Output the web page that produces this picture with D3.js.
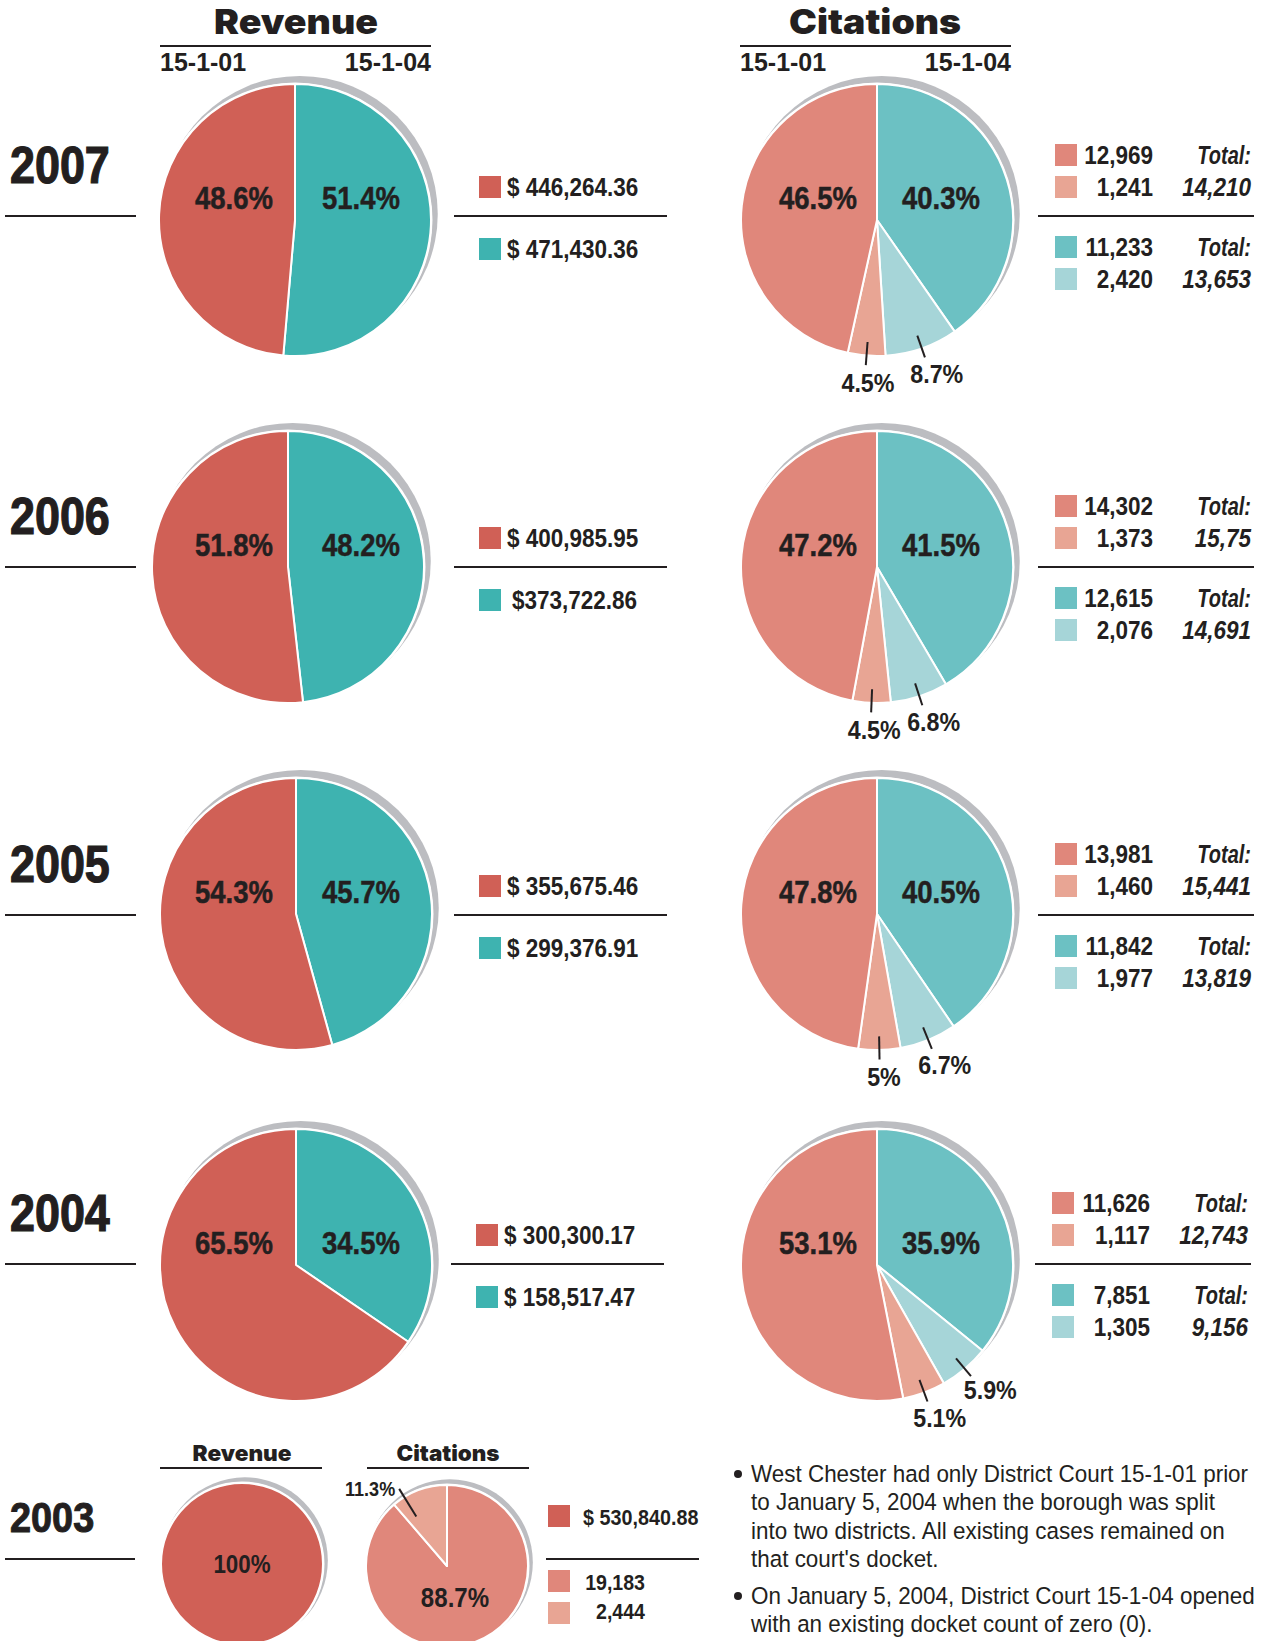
<!DOCTYPE html>
<html>
<head>
<meta charset="utf-8">
<script src="https://cdn.jsdelivr.net/npm/d3@7"></script>
<style>
  body { margin: 0; background: #fff; }
  svg { display: block; }
  .cond { font-family: 'Liberation Sans', Arial, sans-serif; font-weight: bold; fill: #231f20; }
  .heavy { font-family: Inter, 'Open Sans', sans-serif; font-weight: 900; fill: #231f20; }
  .note { font-family: 'Liberation Sans', Arial, sans-serif; font-weight: normal; fill: #231f20; }
</style>
</head>
<body>
<div id="chart"></div>
<script>
// ---- data ----
var years = ["2007", "2006", "2005", "2004"];

// revenue per court
var revenue01 = [446264.36, 400985.95, 355675.46, 300300.17];
var revenue04 = [471430.36, 373722.86, 299376.91, 158517.47];
var revenueText01 = ["$ 446,264.36", "$ 400,985.95", "$ 355,675.46", "$ 300,300.17"];
var revenueText04 = ["$ 471,430.36", "$373,722.86", "$ 299,376.91", "$ 158,517.47"];
var revenuePct01 = ["48.6%", "51.8%", "54.3%", "65.5%"];
var revenuePct04 = ["51.4%", "48.2%", "45.7%", "34.5%"];

// citations per court (two parts each)
var citations01a = [12969, 14302, 13981, 11626];
var citations01b = [1241, 1373, 1460, 1117];
var citations04a = [11233, 12615, 11842, 7851];
var citations04b = [2420, 2076, 1977, 1305];
var total01 = ["14,210", "15,75", "15,441", "12,743"];
var total04 = ["13,653", "14,691", "13,819", "9,156"];
var citPct01a = ["46.5%", "47.2%", "47.8%", "53.1%"];
var citPct01b = ["4.5%", "4.5%", "5%", "5.1%"];
var citPct04a = ["40.3%", "41.5%", "40.5%", "35.9%"];
var citPct04b = ["8.7%", "6.8%", "6.7%", "5.9%"];

// 2003, single court
var revenue2003 = [530840.88];
var revenueText2003 = ["$ 530,840.88"];
var revenuePct2003 = ["100%"];
var citations2003 = [19183, 2444];
var citPct2003 = ["88.7%", "11.3%"];

var courts = ["15-1-01", "15-1-04"];
var notes = [
  ["West Chester had only District Court 15-1-01 prior",
   "to January 5, 2004 when the borough was split",
   "into two districts. All existing cases remained on",
   "that court's docket."],
  ["On January 5, 2004, District Court 15-1-04 opened",
   "with an existing docket count of zero (0)."]
];

// ---- look ----
var col = {
  rev01: "#d06056", rev04: "#3eb3b0",
  cit01a: "#e0877b", cit01b: "#e8a594", cit04a: "#6cc1c3", cit04b: "#a6d5d8",
  shadow: "#bcbdc1", ink: "#231f20"
};

var width = 1262, height = 1641;
var R = 136;
// row layout: pie centres and the legend mid line
var rows = [
  {revX: 295, citX: 877, cy: 220, mid: 216, dx: 0},
  {revX: 288, citX: 877, cy: 567, mid: 567, dx: 0},
  {revX: 296, citX: 877, cy: 914, mid: 915, dx: 0},
  {revX: 296, citX: 877, cy: 1265, mid: 1264, dx: -3}
];

var svg = d3.select("#chart").append("svg")
  .attr("width", width)
  .attr("height", height);

var pie = d3.pie().sort(null).startAngle(0).endAngle(2 * Math.PI);

function hline(x1, x2, y, w) {
  svg.append("line")
    .attr("x1", x1).attr("x2", x2)
    .attr("y1", y).attr("y2", y)
    .attr("stroke", col.ink)
    .attr("stroke-width", w || 2);
}

// text squeezed horizontally by k to get the condensed look
function text(x, y, s, cls, size, anchor, k, parent) {
  return (parent || svg).append("text")
    .attr("class", cls)
    .attr("transform", "translate(" + x + "," + y + ") scale(" + (k || 1) + ",1)")
    .attr("font-size", size)
    .attr("text-anchor", anchor || "start")
    .text(s);
}

function drawPie(cx, cy, r, values, colors) {
  var g = svg.append("g").attr("transform", "translate(" + cx + "," + cy + ")");
  // grey rim behind, offset up and right
  g.append("circle")
    .attr("cx", r * 0.035).attr("cy", -r * 0.045)
    .attr("r", r + 2)
    .attr("fill", col.shadow);
  g.append("circle")
    .attr("r", r + 1.5)
    .attr("fill", "#fff");
  var arc = d3.arc().innerRadius(0).outerRadius(r);
  var arcs = pie(values);
  g.selectAll("path")
    .data(arcs)
    .enter().append("path")
    .attr("d", arc)
    .attr("fill", function (d, i) { return colors[i]; })
    .attr("stroke", "#fff")
    .attr("stroke-width", 2)
    .attr("stroke-linejoin", "round");
  return {g: g, arcs: arcs};
}

function pointAt(a, rr) {
  return [Math.sin(a) * rr, -Math.cos(a) * rr];
}

function leader(p, d, r, label, inner, outer, lab, size) {
  var a = (d.startAngle + d.endAngle) / 2;
  var p1 = pointAt(a, r * inner), p2 = pointAt(a, r * outer), p3 = pointAt(a, r * lab);
  p.g.append("line")
    .attr("x1", p1[0]).attr("y1", p1[1])
    .attr("x2", p2[0]).attr("y2", p2[1])
    .attr("stroke", col.ink)
    .attr("stroke-width", 2);
  text(p3[0] + 4 + Math.sin(a) * 6, p3[1] + size * 0.36, label, "cond", size, "middle", 0.93, p.g);
}

// ---- headers ----
text(296, 34, "Revenue", "heavy", 34, "middle").attr("textLength", 164).attr("lengthAdjust", "spacingAndGlyphs");
text(875, 34, "Citations", "heavy", 34, "middle").attr("textLength", 172).attr("lengthAdjust", "spacingAndGlyphs");
hline(160, 431, 46);
hline(740, 1011, 46);
text(160, 71, courts[0], "cond", 25, "start", 1.0);
text(431, 71, courts[1], "cond", 25, "end", 1.0);
text(740, 71, courts[0], "cond", 25, "start", 1.0);
text(1011, 71, courts[1], "cond", 25, "end", 1.0);

// ---- yearly rows ----
var fmt = d3.format(",");
years.forEach(function (yr, i) {
  var L = rows[i];

  text(10, L.mid - 33, yr, "cond", 51, "start", 0.88).attr("stroke", col.ink).attr("stroke-width", 1.2);
  hline(5, 136, L.mid);

  // revenue pie
  drawPie(L.revX, L.cy, R, [revenue04[i], revenue01[i]], [col.rev04, col.rev01]);
  text(234, L.cy - 11.5, revenuePct01[i], "cond", 32, "middle", 0.86).attr("stroke", col.ink).attr("stroke-width", 0.5);
  text(361, L.cy - 11.5, revenuePct04[i], "cond", 32, "middle", 0.86).attr("stroke", col.ink).attr("stroke-width", 0.5);

  // revenue legend
  var lx = 479 + L.dx;
  svg.append("rect").attr("x", lx).attr("y", L.mid - 40).attr("width", 22).attr("height", 22).attr("fill", col.rev01);
  svg.append("rect").attr("x", lx).attr("y", L.mid + 22).attr("width", 22).attr("height", 22).attr("fill", col.rev04);
  text(lx + 28 + (revenueText01[i][1] === " " ? 0 : 5), L.mid - 20, revenueText01[i], "cond", 25, "start", 0.9);
  text(lx + 28 + (revenueText04[i][1] === " " ? 0 : 5), L.mid + 42, revenueText04[i], "cond", 25, "start", 0.9);
  hline(454 + L.dx, 667 + L.dx, L.mid);

  // citations pie
  var cp = drawPie(L.citX, L.cy, R,
    [citations04a[i], citations04b[i], citations01b[i], citations01a[i]],
    [col.cit04a, col.cit04b, col.cit01b, col.cit01a]);
  text(818, L.cy - 11.5, citPct01a[i], "cond", 32, "middle", 0.86).attr("stroke", col.ink).attr("stroke-width", 0.5);
  text(941, L.cy - 11.5, citPct04a[i], "cond", 32, "middle", 0.86).attr("stroke", col.ink).attr("stroke-width", 0.5);
  leader(cp, cp.arcs[1], R, citPct04b[i], 0.9, 1.07, 1.2, 25);
  leader(cp, cp.arcs[2], R, citPct01b[i], 0.9, 1.07, 1.2, 25);

  // citations legend
  var cx0 = 1055 + L.dx;
  var lines = [
    {y: L.mid - 72, c: col.cit01a, v: citations01a[i], t: "Total:", k: 0.8},
    {y: L.mid - 40, c: col.cit01b, v: citations01b[i], t: total01[i], k: 0.9},
    {y: L.mid + 20, c: col.cit04a, v: citations04a[i], t: "Total:", k: 0.8},
    {y: L.mid + 52, c: col.cit04b, v: citations04b[i], t: total04[i], k: 0.9}
  ];
  lines.forEach(function (ln) {
    svg.append("rect").attr("x", cx0).attr("y", ln.y).attr("width", 22).attr("height", 22).attr("fill", ln.c);
    text(cx0 + 98, ln.y + 19.5, fmt(ln.v), "cond", 25, "end", 0.9);
    text(cx0 + 196, ln.y + 19.5, ln.t, "cond", 25, "end", ln.k).attr("font-style", "italic");
  });
  hline(1038 + L.dx, 1254 + L.dx, L.mid);
});

// ---- 2003 ----
text(10, 1532, "2003", "cond", 43, "start", 0.88).attr("stroke", col.ink).attr("stroke-width", 1);
hline(5, 135, 1559);
text(242, 1461, "Revenue", "heavy", 22, "middle").attr("textLength", 99).attr("lengthAdjust", "spacingAndGlyphs");
text(448, 1461, "Citations", "heavy", 22, "middle").attr("textLength", 103).attr("lengthAdjust", "spacingAndGlyphs");
hline(160, 322, 1468);
hline(367, 529, 1468);

var r3 = 81;
drawPie(242, 1564, r3, revenue2003, [col.rev01]);
text(242, 1572.5, revenuePct2003[0], "cond", 26, "middle", 0.86);

var p3 = drawPie(447, 1566, r3, citations2003, [col.cit01a, col.cit01b]);
text(455, 1607, citPct2003[0], "cond", 28, "middle", 0.86);
(function () {
  var d = p3.arcs[1];
  var a = (d.startAngle + d.endAngle) / 2 - 0.2;
  var q1 = pointAt(a, r3 * 0.72), q2 = pointAt(a, r3 * 1.12);
  p3.g.append("line")
    .attr("x1", q1[0]).attr("y1", q1[1]).attr("x2", q2[0]).attr("y2", q2[1])
    .attr("stroke", col.ink).attr("stroke-width", 2);
  text(q2[0] - 4, q2[1] + 7, citPct2003[1], "cond", 21, "end", 0.86, p3.g);
})();

svg.append("rect").attr("x", 548).attr("y", 1505).attr("width", 22).attr("height", 22).attr("fill", col.rev01);
text(583, 1525, revenueText2003[0], "cond", 21.5, "start", 0.92);
hline(546, 699, 1559);
svg.append("rect").attr("x", 548).attr("y", 1570).attr("width", 22).attr("height", 22).attr("fill", col.cit01a);
svg.append("rect").attr("x", 548).attr("y", 1602).attr("width", 22).attr("height", 22).attr("fill", col.cit01b);
text(645, 1590, fmt(citations2003[0]), "cond", 21.5, "end", 0.91);
text(645, 1619, fmt(citations2003[1]), "cond", 21.5, "end", 0.91);

// ---- notes ----
var ny = [1482, 1604];
notes.forEach(function (para, k) {
  svg.append("circle").attr("cx", 738).attr("cy", ny[k] - 8).attr("r", 4).attr("fill", col.ink);
  para.forEach(function (s, j) {
    text(751, ny[k] + j * 28.3, s, "note", 23.5, "start", 0.955);
  });
});
</script>
</body>
</html>
